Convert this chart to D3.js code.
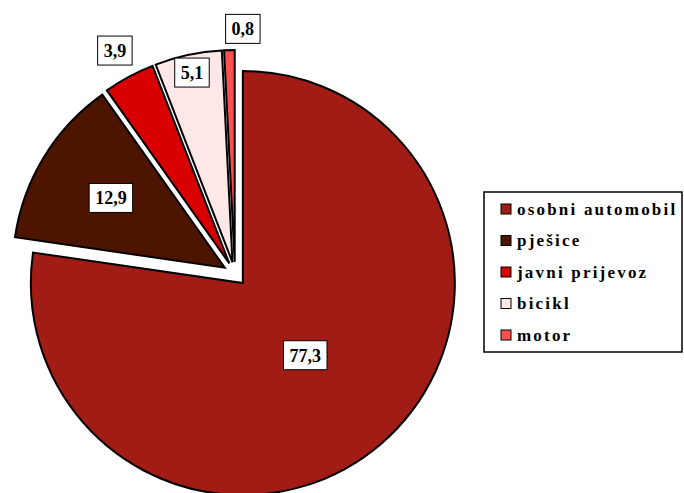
<!DOCTYPE html>
<html lang="en">
<head>
  <meta charset="UTF-8" />
  <title>Pie</title>
  <style>
    html, body { margin: 0; padding: 0; background: #fff; }
    svg { display: block; }
  </style>
</head>
<body>
  <script src="https://d3js.org/d3.v7.min.js"></script>
  <script>
    // data
    const categories = ["osobni automobil", "pješice", "javni prijevoz", "bicikl", "motor"];
    const values = [77.3, 12.9, 3.9, 5.1, 0.8];
    const colors = ["#A01C14", "#4D1400", "#D80000", "#FDE7E7", "#FF5050"];

    const width = 684, height = 493;
    const cx = 235, cy = 274, r = 212, explode = 12;
    // label distance from slice apex (fraction of radius) and a small sideways nudge
    const labelFactor = [0.45, 0.63, 1.14, 0.915, 1.1];
    const labelNudge = [0, 0, 0, 0, 14];

    const svg = d3.select("body").append("svg")
      .attr("width", width).attr("height", height);

    const pie = d3.pie().sort(null).value(d => d);
    const arc = d3.arc().innerRadius(0).outerRadius(r);
    const arcs = pie(values);

    const g = svg.append("g").attr("transform", `translate(${cx},${cy})`);

    const mid = d => (d.startAngle + d.endAngle) / 2;

    g.selectAll("path")
      .data(arcs)
      .join("path")
      .attr("d", arc)
      .attr("transform", d => `translate(${Math.sin(mid(d)) * explode},${-Math.cos(mid(d)) * explode})`)
      .attr("fill", (d, i) => colors[i])
      .attr("stroke", "#000")
      .attr("stroke-width", 2)
      .attr("stroke-linejoin", "miter");

    // value labels
    const fmt = v => String(v).replace(".", ",");
    const labels = g.selectAll("g.lbl")
      .data(arcs)
      .join("g")
      .attr("class", "lbl")
      .attr("transform", (d, i) => {
        const a = mid(d), k = explode + labelFactor[i] * r;
        return `translate(${Math.sin(a) * k + labelNudge[i]},${-Math.cos(a) * k})`;
      });

    labels.append("rect").attr("fill", "#fff").attr("stroke", "#000").attr("stroke-width", 1);
    labels.append("text")
      .attr("text-anchor", "middle")
      .attr("dy", "0.35em")
      .attr("font-family", "'Liberation Serif', 'Times New Roman', serif")
      .attr("font-weight", "bold")
      .attr("font-size", 18)
      .text((d, i) => fmt(values[i]));
    labels.each(function () {
      const bb = d3.select(this).select("text").node().getBBox();
      d3.select(this).select("rect")
        .attr("x", -bb.width / 2 - 6).attr("y", -14.5)
        .attr("width", bb.width + 12).attr("height", 29);
    });

    // legend
    const legend = svg.append("g").attr("transform", "translate(484,192)");
    legend.append("rect")
      .attr("width", 198).attr("height", 160)
      .attr("fill", "#fff").attr("stroke", "#000").attr("stroke-width", 1.5);

    const y = d3.scalePoint().domain(categories).range([17, 143]);
    const item = legend.selectAll("g.item")
      .data(categories)
      .join("g")
      .attr("class", "item")
      .attr("transform", d => `translate(0,${y(d)})`);
    item.append("rect")
      .attr("x", 17).attr("y", -5).attr("width", 10).attr("height", 10)
      .attr("fill", (d, i) => colors[i]).attr("stroke", "#000").attr("stroke-width", 1);
    item.append("text")
      .attr("x", 33).attr("dy", "0.35em")
      .attr("font-family", "'Liberation Serif', 'Times New Roman', serif")
      .attr("font-weight", "bold")
      .attr("font-size", 17)
      .style("letter-spacing", "2.2px")
      .text(d => d);
  </script>
</body>
</html>
